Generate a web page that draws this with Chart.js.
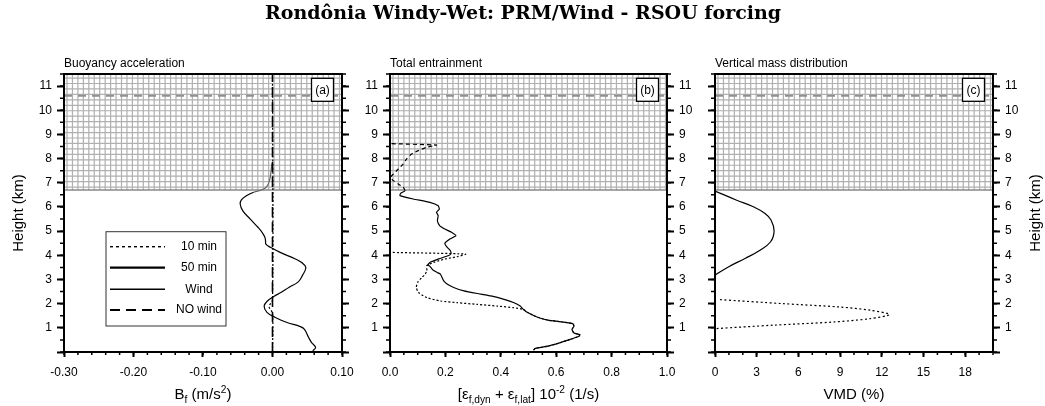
<!DOCTYPE html>
<html>
<head>
<meta charset="utf-8">
<title>Rondônia Windy-Wet: PRM/Wind - RSOU forcing</title>
<script src="https://cdn.jsdelivr.net/npm/chart.js@4.4.0/dist/chart.umd.min.js"></script>
<style>
  html, body { margin: 0; padding: 0; background: #fff; }
  #wrap { position: relative; width: 1045px; height: 406px; }
  #wrap canvas { position: absolute; left: 0; top: 0; }
</style>
</head>
<body>
<div id="wrap">
  <canvas id="chartA" width="1045" height="406"></canvas>
  <canvas id="chartB" width="1045" height="406"></canvas>
  <canvas id="chartC" width="1045" height="406"></canvas>
</div>
<script>
// ---- data ----
const hatchBase = 6.7;   // bottom of hatched layer (km)
const tropLine = 10.6;   // dashed grey line (km)

// (a) buoyancy acceleration
const buoyHeight = [0.05, 0.19, 0.4, 0.6, 0.94, 1.05, 1.22, 1.43, 1.64, 1.9, 2.12, 2.3, 2.46, 2.68, 2.9, 3.16,
  3.5, 3.7, 3.85, 4.12, 4.33, 4.46, 4.6, 4.75, 4.95, 5.16, 5.5, 5.84, 6.12, 6.3, 6.47, 6.61, 6.71, 6.85, 7.1, 7.4, 7.8];
const buoyWind = [0.058, 0.062, 0.056, 0.052, 0.046, 0.040, 0.021, 0.004, -0.008, -0.012, -0.007, 0.002, 0.012, 0.024, 0.037, 0.043,
  0.048, 0.042, 0.033, 0.011, -0.003, -0.0095, -0.010, -0.011, -0.015, -0.021, -0.032, -0.0427, -0.0465, -0.0445, -0.037, -0.027, -0.015, -0.008, -0.0043, -0.0024, -0.001];
const buoy10Height = [0, 1.6, 1.88, 2.15, 11.5];
const buoy10 = [0, 0, -0.005, 0, 0];
const noWindHeight = [0, 11.5];
const noWindBuoy = [0, 0];

// (b) total entrainment
const entHeight = [0.08, 0.15, 0.24, 0.375, 0.51, 0.65, 0.72, 0.79, 0.93, 1.07, 1.17, 1.24, 1.32, 1.44, 1.63, 1.76,
  1.9, 2.04, 2.18, 2.32, 2.42, 2.53, 2.67, 2.81, 2.94, 3.08, 3.22, 3.29, 3.39, 3.53, 3.61, 3.71, 3.85, 3.99, 4.06,
  4.19, 4.35, 4.49, 4.67, 4.81, 4.95, 5.09, 5.22, 5.43, 5.64, 5.78, 5.91, 6.05, 6.19, 6.33, 6.47, 6.56, 6.67, 6.81,
  6.95, 7.09, 7.23, 7.36, 7.57, 7.78, 7.99, 8.19, 8.33, 8.47, 8.56, 8.62];
const ent50 = [0.518, 0.525, 0.57, 0.612, 0.648, 0.682, 0.685, 0.664, 0.657, 0.664, 0.66, 0.624, 0.57, 0.533, 0.497, 0.482,
  0.47, 0.448, 0.412, 0.364, 0.315, 0.267, 0.23, 0.206, 0.194, 0.188, 0.182, 0.17, 0.155, 0.145, 0.137, 0.145, 0.176, 0.212, 0.22,
  0.218, 0.205, 0.198, 0.216, 0.238, 0.222, 0.198, 0.18, 0.171, 0.174, 0.168, 0.178, 0.174, 0.144, 0.084, 0.036, 0.038, 0.054, 0.048,
  0.03, 0.012, 0.002, 0.012, 0.03, 0.048, 0.06, 0.078, 0.102, 0.132, 0.168, 0];
const ent10Height = [0.08, 0.15, 0.24, 0.375, 0.51, 0.65, 0.72, 0.79, 0.93, 1.07, 1.17, 1.24, 1.32, 1.44, 1.63, 1.76,
  1.83, 1.9, 1.97, 2.04, 2.11, 2.25, 2.46, 2.67, 2.88, 3.08, 3.22, 3.36, 3.57, 3.71, 3.85, 3.94, 4.05, 4.12];
const ent10 = [0.518, 0.525, 0.57, 0.612, 0.648, 0.682, 0.685, 0.664, 0.657, 0.664, 0.66, 0.624, 0.57, 0.533, 0.497, 0.482,
  0.448, 0.388, 0.315, 0.242, 0.182, 0.133, 0.103, 0.095, 0.1, 0.115, 0.127, 0.133, 0.133, 0.158, 0.2, 0.242, 0.273, 0];

// (c) vertical mass distribution
const vmdHeight = [3.18, 3.52, 3.87, 4.21, 4.56, 5.0, 5.46, 5.73, 6.01, 6.28, 6.66];
const vmd50 = [0, 0.96, 2.16, 3.24, 4.0, 4.25, 4.03, 3.6, 2.76, 1.56, 0];
const vmd10Height = [0.97, 1.11, 1.24, 1.38, 1.55, 1.73, 1.86, 2.0, 2.17];
const vmd10 = [0.12, 4.2, 8.5, 11.16, 12.55, 11.16, 9.0, 4.9, 0.24];

// legend of panel (a)
const legendLabels = ['10 min', '50 min', 'Wind', 'NO wind'];

const pts = (xs, ys) => xs.map((x, i) => ({ x: x, y: ys[i] }));
const tickFont = { family: '"Liberation Sans", Arial, sans-serif', size: 12 };
const SANS = '"Liberation Sans", Arial, sans-serif';

// hatched layer, minor ticks, frame, labels
const decor = {
  id: 'decor',
  beforeDatasetsDraw(chart, args, o) {
    const { ctx, chartArea: a, scales } = chart;
    const yb = scales.y.getPixelForValue(hatchBase);
    ctx.save();
    ctx.beginPath();
    ctx.rect(a.left, a.top, a.right - a.left, yb - a.top);
    ctx.clip();
    ctx.strokeStyle = '#b0b0b0';
    ctx.lineWidth = 1.2;
    ctx.beginPath();
    for (let x = a.left + 3; x < a.right; x += 5.45) {
      ctx.moveTo(x, a.top); ctx.lineTo(x, yb);
    }
    for (let y = yb - 3; y > a.top; y -= 5.45) {
      ctx.moveTo(a.left, y); ctx.lineTo(a.right, y);
    }
    ctx.stroke();
    ctx.restore();

    ctx.save();
    ctx.strokeStyle = '#8a8a8a';
    ctx.lineWidth = 1.6;
    ctx.beginPath();
    ctx.moveTo(a.left, yb); ctx.lineTo(a.right, yb);
    ctx.stroke();
    const yt = scales.y.getPixelForValue(tropLine);
    ctx.strokeStyle = '#909090';
    ctx.lineWidth = 2;
    ctx.setLineDash([8, 6]);
    ctx.beginPath();
    ctx.moveTo(a.left, yt); ctx.lineTo(a.right, yt);
    ctx.stroke();
    ctx.restore();
  },
  afterDraw(chart, args, o) {
    const { ctx, chartArea: a, scales } = chart;
    ctx.save();
    // frame
    ctx.strokeStyle = '#000';
    ctx.lineWidth = 2;
    ctx.strokeRect(a.left, a.top, a.right - a.left, a.bottom - a.top);

    // minor ticks
    ctx.lineWidth = 1.5;
    ctx.beginPath();
    const xs = scales.x;
    for (let v = xs.min; v <= xs.max + 1e-9; v += o.minorX) {
      const p = xs.getPixelForValue(v);
      ctx.moveTo(p, a.bottom); ctx.lineTo(p, a.bottom + 3);
    }
    for (let v = 0; v <= 11.5 + 1e-9; v += 0.5) {
      const p = scales.y.getPixelForValue(v);
      ctx.moveTo(a.left, p); ctx.lineTo(a.left - 4, p);
      ctx.moveTo(a.right, p); ctx.lineTo(a.right + 4, p);
    }
    ctx.stroke();

    // panel title
    ctx.fillStyle = '#000';
    ctx.font = '12px ' + SANS;
    ctx.textAlign = 'left';
    ctx.textBaseline = 'alphabetic';
    ctx.fillText(o.title, a.left, a.top - 7);

    // tag box
    const bw = 22, bh = 23, bx = a.right - 8.5 - bw, by = a.top + 4.3;
    ctx.fillStyle = '#fff';
    ctx.fillRect(bx, by, bw, bh);
    ctx.lineWidth = 1.3;
    ctx.strokeRect(bx, by, bw, bh);
    ctx.fillStyle = '#000';
    ctx.textAlign = 'center';
    ctx.textBaseline = 'middle';
    ctx.fillText(o.tag, bx + bw / 2, by + bh / 2 + 0.5);

    // x axis title (with sub/superscripts)
    drawRich(ctx, o.xTitle, (a.left + a.right) / 2, 399, 15);

    // y axis titles
    ctx.font = '15px ' + SANS;
    ctx.textAlign = 'center';
    ctx.textBaseline = 'middle';
    const yc = (a.top + a.bottom) / 2;
    if (o.leftTitle) {
      ctx.save(); ctx.translate(18.5, yc); ctx.rotate(-Math.PI / 2);
      ctx.fillText('Height (km)', 0, 0); ctx.restore();
    }
    if (o.rightTitle) {
      ctx.save(); ctx.translate(1036, yc); ctx.rotate(-Math.PI / 2);
      ctx.fillText('Height (km)', 0, 0); ctx.restore();
    }

    // legend
    if (o.legend) {
      const lx = a.left + 42, ly = a.top + 157.7, lw = 120, lh = 94.3;
      ctx.fillStyle = '#fff';
      ctx.fillRect(lx, ly, lw, lh);
      ctx.strokeStyle = '#333';
      ctx.lineWidth = 1;
      ctx.strokeRect(lx, ly, lw, lh);
      const rows = [15, 36, 57.6, 78.3];
      const dash = [[3, 3], [], [], [10, 6]];
      const wid = [1.4, 2.2, 1.5, 1.8];
      ctx.fillStyle = '#000';
      ctx.strokeStyle = '#000';
      ctx.font = '12px ' + SANS;
      legendLabels.forEach((lab, i) => {
        ctx.setLineDash(dash[i]);
        ctx.lineWidth = wid[i];
        ctx.beginPath();
        ctx.moveTo(lx + 4, ly + rows[i]); ctx.lineTo(lx + 59, ly + rows[i]);
        ctx.stroke();
        ctx.setLineDash([]);
        ctx.fillText(lab, lx + 93, ly + rows[i]);
      });
    }

    // main title
    if (o.mainTitle) {
      ctx.font = 'bold 19px "DejaVu Serif", serif';
      ctx.textAlign = 'center';
      ctx.textBaseline = 'alphabetic';
      ctx.fillText(o.mainTitle, 523, 18.5);
    }
    ctx.restore();
  }
};

function drawRich(ctx, parts, cx, baseY, size) {
  let total = 0;
  parts.forEach(p => {
    p.size = (p.sub || p.sup) ? size * 0.68 : size;
    ctx.font = p.size + 'px ' + SANS;
    p.w = ctx.measureText(p.t).width;
    total += p.w;
  });
  let x = cx - total / 2;
  ctx.textAlign = 'left';
  ctx.textBaseline = 'alphabetic';
  ctx.fillStyle = '#000';
  parts.forEach(p => {
    ctx.font = p.size + 'px ' + SANS;
    const dy = p.sub ? size * 0.25 : (p.sup ? -size * 0.42 : 0);
    ctx.fillText(p.t, x, baseY + dy);
    x += p.w;
  });
}

function yAxis(position, showLabels) {
  return {
    type: 'linear', position: position, min: 0, max: 11.5,
    afterFit: s => { s.width = 40; },
    border: { display: true, color: '#000', width: 2 },
    grid: { drawOnChartArea: false, drawTicks: true, tickLength: 7, tickWidth: 2, tickColor: '#000' },
    ticks: {
      stepSize: 1, includeBounds: false, autoSkip: false, padding: 5, color: '#000', font: tickFont,
      callback: v => (showLabels && v !== 0) ? String(v) : ''
    }
  };
}

function xAxis(min, max, step, digits) {
  return {
    type: 'linear', position: 'bottom', min: min, max: max,
    afterFit: s => { s.height = 40; },
    border: { display: true, color: '#000', width: 2 },
    grid: { drawOnChartArea: false, drawTicks: true, tickLength: 5, tickWidth: 2, tickColor: '#000' },
    ticks: {
      stepSize: step, includeBounds: false, autoSkip: false, maxRotation: 0, padding: 8, color: '#000', font: tickFont,
      callback: v => (Math.abs(v) < 1e-9 ? 0 : v).toFixed(digits)
    }
  };
}

function makeChart(id, left, right, datasets, scales, decorOpts) {
  return new Chart(document.getElementById(id), {
    type: 'scatter',
    data: { datasets: datasets },
    options: {
      responsive: false,
      animation: false,
      events: [],
      layout: { padding: { left: left - 40, right: 1045 - right - 40, top: 74, bottom: 14 } },
      scales: scales,
      plugins: { legend: { display: false }, tooltip: { enabled: false }, decor: decorOpts }
    },
    plugins: [decor]
  });
}

const line = (data, extra) => Object.assign({
  data: data, showLine: true, pointRadius: 0, borderColor: '#000', borderWidth: 1.2, tension: 0.4
}, extra);

// (a)
makeChart('chartA', 64, 342, [
  line(pts(noWindBuoy, noWindHeight), { label: 'NO wind', borderDash: [10, 5], borderWidth: 1.6, tension: 0 }),
  line(pts(buoy10, buoy10Height), { label: '10 min', borderDash: [2, 2], tension: 0.3 }),
  line(pts(buoyWind, buoyHeight), {
    label: 'Wind',
    segment: { borderColor: c => c.p1.parsed.y > hatchBase ? '#666' : undefined }
  })
], { x: xAxis(-0.3, 0.1, 0.1, 2), y: yAxis('left', true), y2: yAxis('right', false) }, {
  title: 'Buoyancy acceleration', tag: '(a)', minorX: 0.02, leftTitle: true, legend: true,
  mainTitle: 'Rondônia Windy-Wet: PRM/Wind - RSOU forcing',
  xTitle: [{ t: 'B' }, { t: 'f', sub: true }, { t: ' (m/s' }, { t: '2', sup: true }, { t: ')' }]
});

// (b)
makeChart('chartB', 390, 667, [
  line(pts(ent10, ent10Height), { label: '10 min', borderDash: [2, 2], tension: 0.2 }),
  line(pts(ent50, entHeight), {
    label: '50 min', tension: 0.15,
    segment: { borderDash: c => c.p1.parsed.y > hatchBase ? [4, 3] : undefined }
  })
], { x: xAxis(0, 1, 0.2, 1), y: yAxis('left', true), y2: yAxis('right', true) }, {
  title: 'Total entrainment', tag: '(b)', minorX: 0.05,
  xTitle: [{ t: '[\u03b5' }, { t: 'f,dyn', sub: true }, { t: ' + \u03b5' }, { t: 'f,lat', sub: true },
    { t: '] 10' }, { t: '-2', sup: true }, { t: ' (1/s)' }]
});

// (c)
makeChart('chartC', 715, 993, [
  line(pts(vmd10, vmd10Height), { label: '10 min', borderDash: [2, 2.5], tension: 0.3 }),
  line(pts(vmd50, vmdHeight), { label: '50 min' })
], { x: xAxis(0, 20, 3, 0), y: yAxis('left', false), y2: yAxis('right', true) }, {
  title: 'Vertical mass distribution', tag: '(c)', minorX: 1, rightTitle: true,
  xTitle: [{ t: 'VMD (%)' }]
});
</script>
</body>
</html>
